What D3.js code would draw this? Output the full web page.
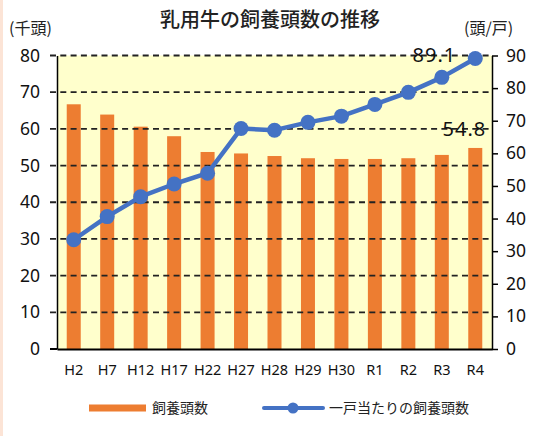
<!DOCTYPE html>
<html lang="ja">
<head>
<meta charset="UTF-8">
<title>乳用牛の飼養頭数の推移</title>
<style>
  body { margin: 0; background: #fff; }
  svg { display: block; font-family: "Noto Sans CJK JP", "Noto Sans", sans-serif; }
</style>
<script src="https://d3js.org/d3.v7.min.js"></script>
</head>
<body>
<svg id="chart" width="538" height="436"></svg>
<script>
const categories = ["H2", "H7", "H12", "H17", "H22", "H27", "H28", "H29", "H30", "R1", "R2", "R3", "R4"];
// 飼養頭数 (千頭)
const headCount = [66.7, 63.9, 60.6, 58.0, 53.7, 53.3, 52.6, 52.0, 51.8, 51.8, 52.0, 52.9, 54.8];
// 一戸当たりの飼養頭数 (頭/戸)
const perFarm = [33.5, 40.6, 46.7, 50.6, 53.9, 67.6, 67.1, 69.5, 71.4, 75.0, 78.7, 83.3, 89.1];
const leftTicks = [0, 10, 20, 30, 40, 50, 60, 70, 80];
const rightTicks = [0, 10, 20, 30, 40, 50, 60, 70, 80, 90];

const svg = d3.select("#chart");
const W = 538, H = 436;
const m = { left: 57, right: 46, top: 55.5, bottom: 87 };
const x0 = m.left, x1 = W - m.right, yTop = m.top, yBot = H - m.bottom;

// left pink strip
svg.append("rect").attr("x", 0).attr("y", 0).attr("width", 3).attr("height", H).attr("fill", "#fce4d6");

const x = d3.scaleBand().domain(categories).range([x0, x1]);
const yL = d3.scaleLinear().domain([0, 80]).range([yBot, yTop]);
const yR = d3.scaleLinear().domain([0, 90]).range([yBot, yTop]);

// plot background
svg.append("rect").attr("x", x0).attr("y", yTop).attr("width", x1 - x0).attr("height", yBot - yTop).attr("fill", "#ffffcc");

// bars
svg.selectAll(".bar").data(headCount).enter().append("rect")
  .attr("class", "bar")
  .attr("x", (d, i) => x(categories[i]) + x.bandwidth() / 2 - 7)
  .attr("width", 14)
  .attr("y", d => yL(d))
  .attr("height", d => yBot - yL(d))
  .attr("fill", "#ed7d31");

// gridlines (dashed), drawn above bars
svg.selectAll(".grid").data(leftTicks.filter(d => d > 0)).enter().append("line")
  .attr("x1", x0 - 7).attr("x2", x1)
  .attr("y1", d => yL(d)).attr("y2", d => yL(d))
  .attr("stroke", "#222").attr("stroke-width", 1.8)
  .attr("stroke-dasharray", "6,4.3");

// left axis
const axL = svg.append("g").attr("transform", `translate(${x0},0)`)
  .call(d3.axisLeft(yL).tickValues(leftTicks).tickSize(7).tickSizeOuter(0).tickPadding(10));
axL.select(".domain").attr("stroke", "#000").attr("stroke-width", 1.5);
axL.selectAll(".tick line").attr("stroke", d => d === 0 ? "#000" : "none");
axL.selectAll("text").attr("font-size", 17.5).attr("fill", "#111").attr("font-family", "Noto Sans, sans-serif");

// right axis
const axR = svg.append("g").attr("transform", `translate(${x1},0)`)
  .call(d3.axisRight(yR).tickValues(rightTicks).tickSize(6).tickSizeOuter(0).tickPadding(8));
axR.select(".domain").attr("stroke", "#000").attr("stroke-width", 1.5);
axR.selectAll(".tick line").attr("stroke", "#000").attr("stroke-width", 1.5);
axR.selectAll("text").attr("font-size", 17.5).attr("fill", "#111").attr("font-family", "Noto Sans, sans-serif");

// bottom axis
const axB = svg.append("g").attr("transform", `translate(0,${yBot})`)
  .call(d3.axisBottom(x).tickSize(0).tickPadding(16));
axB.select(".domain").attr("stroke", "#000").attr("stroke-width", 2);
axB.selectAll("text").attr("font-size", 14.5).attr("fill", "#111").attr("font-family", "Noto Sans, sans-serif");
svg.append("line").attr("x1", x0 - 7).attr("x2", x0).attr("y1", yBot).attr("y2", yBot).attr("stroke", "#000").attr("stroke-width", 2);

// line series
const line = d3.line().x((d, i) => x(categories[i]) + x.bandwidth() / 2).y(d => yR(d));
svg.append("path").datum(perFarm).attr("d", line)
  .attr("fill", "none").attr("stroke", "#4472c4").attr("stroke-width", 4.5).attr("stroke-linejoin", "round");
svg.selectAll(".dot").data(perFarm).enter().append("circle")
  .attr("cx", (d, i) => x(categories[i]) + x.bandwidth() / 2)
  .attr("cy", d => yR(d))
  .attr("r", 7.5).attr("fill", "#4472c4");

// data labels for the last point
const last = categories.length - 1;
const lx = x(categories[last]) + x.bandwidth() / 2;
svg.append("text").attr("x", lx - 19).attr("y", yR(perFarm[last]) + 4)
  .attr("text-anchor", "end").attr("font-size", 20).attr("letter-spacing", 1).attr("fill", "#111")
  .attr("font-family", "Noto Sans, sans-serif").text(perFarm[last].toFixed(1));
svg.append("text").attr("x", lx + 11).attr("y", yL(headCount[last]) - 12)
  .attr("text-anchor", "end").attr("font-size", 20).attr("letter-spacing", 1).attr("fill", "#111")
  .attr("font-family", "Noto Sans, sans-serif").text(headCount[last].toFixed(1));

// title and units
svg.append("text").attr("x", 270).attr("y", 27).attr("text-anchor", "middle")
  .attr("font-size", 20).attr("font-weight", 500).attr("fill", "#222").text("乳用牛の飼養頭数の推移");
svg.append("text").attr("x", 9).attr("y", 34).attr("font-size", 16).attr("fill", "#222").text("(千頭)");
svg.append("text").attr("x", 464).attr("y", 34).attr("font-size", 16).attr("fill", "#222").text("(頭/戸)");

// legend
const ly = 408;
svg.append("rect").attr("x", 89).attr("y", ly - 3.5).attr("width", 57).attr("height", 7).attr("fill", "#ed7d31");
svg.append("text").attr("x", 152).attr("y", ly + 5).attr("font-size", 14).attr("fill", "#222").text("飼養頭数");
svg.append("line").attr("x1", 264).attr("x2", 323).attr("y1", ly).attr("y2", ly)
  .attr("stroke", "#4472c4").attr("stroke-width", 4).attr("stroke-linecap", "round");
svg.append("circle").attr("cx", 293).attr("cy", ly).attr("r", 5.5).attr("fill", "#4472c4");
svg.append("text").attr("x", 329).attr("y", ly + 5).attr("font-size", 14).attr("fill", "#222").text("一戸当たりの飼養頭数");
</script>
</body>
</html>
